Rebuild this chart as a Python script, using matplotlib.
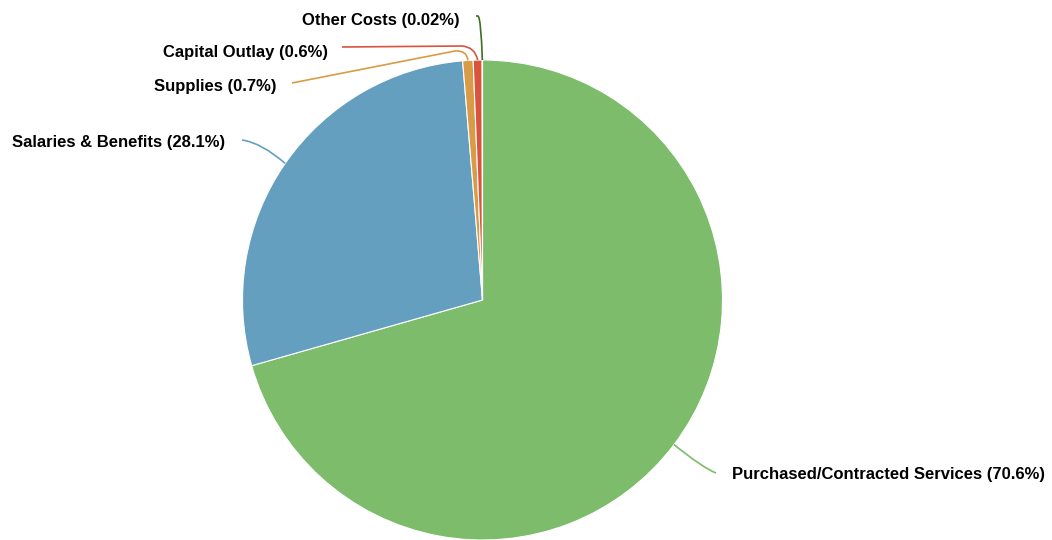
import numpy as np
import matplotlib.pyplot as plt
from matplotlib.path import Path
from matplotlib.patches import PathPatch

# budget shares (percent)
categories = ["Purchased/Contracted Services", "Salaries & Benefits", "Supplies",
              "Capital Outlay", "Other Costs"]
shares = [70.6, 28.1, 0.7, 0.6, 0.02]
share_labels = ["70.6%", "28.1%", "0.7%", "0.6%", "0.02%"]
colors = ["#7cbc6a", "#659fc0", "#d99b45", "#d9533f", "#3d6e24"]

W, H = 1052, 540
fig = plt.figure(figsize=(W / 100, H / 100), dpi=100)
ax = fig.add_axes([0, 0, 1, 1])

cx, cy, r = 482.5, 300, 240  # cy in pixels from the top


def P(x, y):
    # pixel coords (y down) -> axes coords (y up)
    return (x, H - y)


wedges, _ = ax.pie(shares, colors=colors, startangle=90, counterclock=False,
                   center=P(cx, cy), radius=r,
                   wedgeprops=dict(edgecolor="white", linewidth=0.8))
# pie() resets the limits, so set them afterwards
ax.set_xlim(0, W)
ax.set_ylim(0, H)
ax.set_aspect("equal")
ax.axis("off")


def edge_point(w):
    a = np.deg2rad((w.theta1 + w.theta2) / 2)
    return (cx + r * np.cos(a), cy - r * np.sin(a))


# leader routes: (control/elbow points, label anchor, text position, ha)
routes = [
    ([(703, 468)], (716, 473), (732, 475), "left"),
    ([(262, 143)], (242, 140), (225, 143), "right"),
    ([(467, 50), (455, 51)], (292, 83), (277, 86), "right"),
    ([(475, 47), (462, 46)], (342, 47), (328, 52), "right"),
    ([(481, 18), (478, 16)], (476, 16), (460, 20), "right"),
]

for w, name, lab, col, (ctrl, end, tpos, ha) in zip(wedges, categories, share_labels, colors, routes):
    sx, sy = edge_point(w)
    if len(ctrl) == 1:
        verts = [P(sx, sy), P(*ctrl[0]), P(*end)]
        codes = [Path.MOVETO, Path.CURVE3, Path.CURVE3]
    else:
        verts = [P(sx, sy), P(*ctrl[0]), P(*ctrl[1]), P(*end)]
        codes = [Path.MOVETO, Path.CURVE3, Path.CURVE3, Path.LINETO]
    ax.add_patch(PathPatch(Path(verts, codes), facecolor="none", edgecolor=col, linewidth=1.2))
    ax.text(*P(*tpos), f"{name} ({lab})", ha=ha, va="center",
            fontsize=12, fontweight="bold", family="Liberation Sans", color="#000000")

fig.savefig("out.png", dpi=100)
